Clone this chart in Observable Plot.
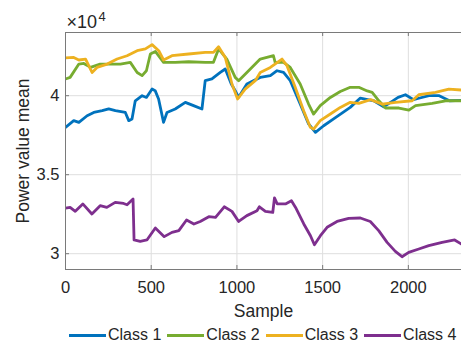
<!DOCTYPE html>
<html><head><meta charset="utf-8">
<script src="https://cdn.jsdelivr.net/npm/d3@7"></script>
<script src="https://cdn.jsdelivr.net/npm/@observablehq/plot@0.6"></script>
<style>
body{margin:0;background:#fff;font-family:Arial,"Liberation Sans",Helvetica,sans-serif;}
#chart{width:461px;height:343px;overflow:hidden;position:relative;background:#fff}
#chart svg{display:block}
.legend{position:absolute;left:69px;top:327px;display:flex;align-items:center;height:16px;font-size:16px;line-height:16px;color:#262626;white-space:nowrap}
.item{display:flex;align-items:center;margin-right:6px}
.swatch{width:37px;height:3px;margin-right:2px}
</style></head><body><div id="chart"></div>
<script>
const classNames = ["Class 1", "Class 2", "Class 3", "Class 4"];
const classColors = ["#0072BD", "#77AC30", "#EDB120", "#7E2F8E"];
const xTicks = [0, 500, 1000, 1500, 2000];
const yTicks = [30000, 35000, 40000];

const class1Sample = [0,48,78,126,165,214,252,291,349,369,388,407,447,472,505,523,543,572,592,640,699,747,796,815,854,903,932,967,990,1010,1058,1136,1195,1234,1272,1311,1369,1418,1458,1506,1564,1661,1720,1798,1856,1905,1940,1983,2030,2061,2120,2180,2240,2310];
const class1Value = [38000,38420,38310,38730,38940,39050,39160,39050,38940,38420,38530,39680,40000,39890,40420,40320,39790,38310,38940,39160,39580,39370,39160,40950,41060,41470,41690,40740,40320,39900,40740,41160,41270,41580,41470,40950,39470,38210,37680,38100,38530,39260,39850,39680,39300,39640,39890,40060,39750,39840,40000,40000,39680,39700];

const class2Sample = [0,27,78,107,146,202,262,320,378,418,447,472,495,524,572,640,718,815,863,893,941,990,1010,1058,1107,1136,1213,1223,1272,1311,1369,1418,1447,1486,1545,1603,1661,1711,1760,1789,1828,1867,1945,2003,2042,2139,2217,2310];
const class2Value = [41060,41160,42000,42040,41790,42000,42000,42000,42110,41470,41270,41580,42640,42800,42110,42110,42150,42110,42110,42960,42320,41160,40950,41470,42000,42320,42530,42110,42110,41790,40740,39470,38840,39370,39890,40270,40530,40530,40300,40210,39680,39220,39220,39090,39370,39510,39680,39680];

const class3Sample = [0,48,78,117,155,184,243,301,359,418,466,505,544,572,621,718,815,863,893,932,971,1004,1048,1107,1136,1195,1263,1292,1340,1389,1428,1447,1486,1545,1603,1661,1711,1780,1847,1925,2022,2061,2158,2236,2310];
const class3Value = [42390,42420,42260,42320,41470,41790,42000,42320,42530,42850,42960,43230,42850,42260,42530,42640,42740,42740,43100,42420,40740,39790,40420,40950,41470,41790,42320,41900,40530,39050,38000,37890,38420,38840,39260,39580,39510,39750,39470,39580,39680,40060,40210,40420,40360];

const class4Sample = [0,27,57,101,154,202,241,290,339,359,394,400,436,475,524,576,621,661,706,749,786,836,875,926,971,1010,1058,1117,1131,1166,1209,1219,1235,1283,1318,1342,1390,1429,1452,1487,1526,1584,1652,1720,1778,1827,1876,1924,1963,2002,2061,2119,2197,2270,2310];
const class4Value = [32890,32930,32680,33150,32510,33040,32930,33250,33180,33100,33460,30870,30780,30870,31630,31080,31350,31460,32130,31880,32040,32340,32300,32970,32680,32040,32410,32720,32970,32680,32610,33530,33150,33150,33350,32930,31880,31140,30570,31140,31670,32040,32240,32260,32040,31460,30720,30150,29810,30080,30300,30510,30720,30870,30610];

function rows(samples, values, cls) {
  return samples.map((s, i) => ({sample: s, value: values[i], cls}));
}
const seriesData = [
  rows(class1Sample, class1Value, classNames[0]),
  rows(class2Sample, class2Value, classNames[1]),
  rows(class3Sample, class3Value, classNames[2]),
  rows(class4Sample, class4Value, classNames[3])
];

const frameColor = "#7a7a7a";
const textColor = "#262626";

const chart = Plot.plot({
  width: 461,
  height: 322,
  marginLeft: 65,
  marginRight: 0,
  marginTop: 32,
  marginBottom: 53,
  style: {fontFamily: "Arial, 'Liberation Sans', Helvetica, sans-serif", background: "#fff", color: textColor, overflow: "visible"},
  x: {domain: [0, 2310]},
  y: {domain: [29000, 44000]},
  marks: [
    Plot.gridX(xTicks.slice(1), {stroke: "#dedede", strokeOpacity: 1}),
    Plot.gridY(yTicks, {stroke: "#dedede", strokeOpacity: 1}),
    Plot.axisX(xTicks, {tickSize: 0, tickPadding: 12, fontSize: 16.5, label: null, tickFormat: d => String(d)}),
    Plot.axisY(yTicks, {tickSize: 0, tickPadding: 6, fontSize: 16.5, label: null, tickFormat: d => String(d / 1e4)}),
    ...seriesData.map((d, i) => Plot.line(d, {x: "sample", y: "value", stroke: classColors[i], strokeWidth: 2.8, strokeLinejoin: "round", clip: true})),
    Plot.ruleX([0], {stroke: frameColor}),
    Plot.ruleY([29000], {stroke: frameColor}),
    Plot.ruleY([44000], {stroke: frameColor}),
    Plot.tickX(xTicks.slice(1), {x: d => d, insetTop: 233, stroke: frameColor}),
    Plot.tickX(xTicks.slice(1), {x: d => d, insetBottom: 233, stroke: frameColor}),
    Plot.tickY(yTicks, {y: d => d, insetRight: 392, stroke: frameColor}),
    Plot.text(["Sample"], {frameAnchor: "bottom", dy: 42, lineAnchor: "middle", textAnchor: "middle", fontSize: 17.5, fill: textColor}),
    Plot.text(["Power value mean"], {frameAnchor: "left", dx: -42.5, rotate: -90, lineAnchor: "middle", textAnchor: "middle", fontSize: 17.5, fill: textColor}),
    Plot.text(["\u00d710"], {frameAnchor: "top-left", dx: 1, dy: -10, lineAnchor: "middle", textAnchor: "start", fontSize: 18, fill: textColor}),
    Plot.text(["4"], {frameAnchor: "top-left", dx: 33, dy: -16, lineAnchor: "middle", textAnchor: "start", fontSize: 13, fill: textColor})
  ]
});

const root = document.getElementById("chart");
root.appendChild(chart);
const legend = document.createElement("div");
legend.className = "legend";
classNames.forEach((name, i) => {
  const item = document.createElement("div");
  item.className = "item";
  const sw = document.createElement("span");
  sw.className = "swatch";
  sw.style.background = classColors[i];
  const lab = document.createElement("span");
  lab.textContent = name;
  item.appendChild(sw);
  item.appendChild(lab);
  legend.appendChild(item);
});
root.appendChild(legend);
</script>
</body></html>
